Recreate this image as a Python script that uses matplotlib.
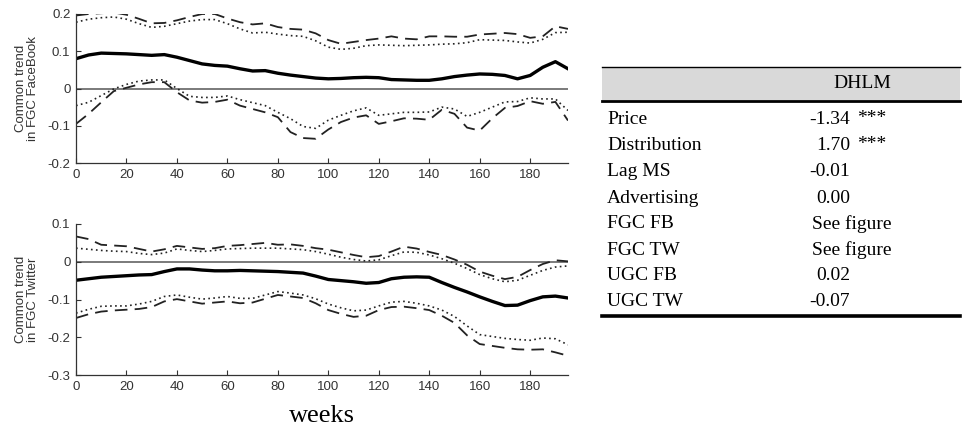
import matplotlib
matplotlib.use("Agg")
import matplotlib.pyplot as plt
from matplotlib.lines import Line2D
from matplotlib.patches import Rectangle

# ---------------- data ----------------
weeks = [0, 5, 10, 15, 20, 25, 30, 35, 40, 45, 50, 55, 60, 65, 70, 75, 80, 85, 90, 95,
         100, 105, 110, 115, 120, 125, 130, 135, 140, 145, 150, 155, 160, 165, 170, 175,
         180, 185, 190, 195]

fb_mid = [0.080, 0.090, 0.095, 0.094, 0.093, 0.091, 0.089, 0.091, 0.084, 0.075, 0.066, 0.062,
          0.060, 0.053, 0.047, 0.048, 0.041, 0.036, 0.032, 0.028, 0.026, 0.027, 0.029, 0.030,
          0.029, 0.024, 0.023, 0.022, 0.022, 0.026, 0.032, 0.036, 0.039, 0.038, 0.035, 0.026,
          0.035, 0.057, 0.072, 0.053]
fb_dash_hi = [0.196, 0.200, 0.202, 0.204, 0.198, 0.187, 0.175, 0.176, 0.183, 0.192, 0.200, 0.200,
              0.188, 0.178, 0.172, 0.175, 0.165, 0.160, 0.158, 0.148, 0.130, 0.120, 0.125, 0.130,
              0.134, 0.140, 0.134, 0.132, 0.140, 0.140, 0.139, 0.139, 0.145, 0.147, 0.149, 0.146,
              0.136, 0.140, 0.167, 0.160]
fb_dot_hi = [0.178, 0.186, 0.190, 0.192, 0.186, 0.174, 0.164, 0.167, 0.174, 0.181, 0.185, 0.185,
             0.174, 0.160, 0.149, 0.151, 0.146, 0.142, 0.140, 0.128, 0.111, 0.105, 0.108, 0.115,
             0.117, 0.116, 0.115, 0.116, 0.117, 0.119, 0.120, 0.123, 0.131, 0.130, 0.129, 0.125,
             0.122, 0.132, 0.150, 0.151]
fb_dash_lo = [-0.095, -0.068, -0.037, -0.007, 0.002, 0.011, 0.017, 0.017, -0.010, -0.032, -0.038,
              -0.036, -0.030, -0.046, -0.055, -0.064, -0.077, -0.117, -0.133, -0.135, -0.110,
              -0.090, -0.078, -0.072, -0.095, -0.088, -0.080, -0.081, -0.084, -0.057, -0.068,
              -0.105, -0.113, -0.080, -0.052, -0.047, -0.034, -0.041, -0.036, -0.086]
fb_dot_lo = [-0.046, -0.037, -0.019, -0.001, 0.011, 0.020, 0.023, 0.023, 0.000, -0.021, -0.024,
             -0.024, -0.020, -0.030, -0.038, -0.046, -0.064, -0.081, -0.102, -0.107, -0.085,
             -0.072, -0.060, -0.052, -0.072, -0.068, -0.064, -0.064, -0.063, -0.050, -0.055,
             -0.075, -0.064, -0.050, -0.036, -0.035, -0.025, -0.028, -0.028, -0.059]

tw_mid = [-0.049, -0.045, -0.041, -0.039, -0.037, -0.035, -0.034, -0.026, -0.019, -0.019, -0.022,
          -0.024, -0.024, -0.023, -0.024, -0.025, -0.026, -0.028, -0.030, -0.038, -0.047, -0.050,
          -0.053, -0.057, -0.055, -0.045, -0.041, -0.040, -0.041, -0.055, -0.068, -0.080, -0.093,
          -0.105, -0.116, -0.115, -0.103, -0.093, -0.091, -0.096]
tw_dash_hi = [0.067, 0.060, 0.045, 0.043, 0.041, 0.034, 0.027, 0.033, 0.042, 0.038, 0.034, 0.036,
              0.042, 0.044, 0.047, 0.050, 0.045, 0.046, 0.042, 0.036, 0.032, 0.025, 0.018, 0.012,
              0.015, 0.027, 0.040, 0.035, 0.026, 0.018, 0.006, -0.008, -0.026, -0.037, -0.046,
              -0.040, -0.022, -0.006, 0.004, 0.001]
tw_dot_hi = [0.036, 0.033, 0.030, 0.028, 0.027, 0.022, 0.019, 0.023, 0.034, 0.030, 0.027, 0.030,
             0.034, 0.035, 0.036, 0.036, 0.036, 0.034, 0.032, 0.027, 0.020, 0.012, 0.006, 0.002,
             0.005, 0.016, 0.026, 0.025, 0.018, 0.008, -0.004, -0.018, -0.034, -0.045, -0.053,
             -0.049, -0.036, -0.023, -0.014, -0.011]
tw_dot_lo = [-0.136, -0.126, -0.118, -0.117, -0.117, -0.112, -0.105, -0.092, -0.088, -0.094,
             -0.099, -0.096, -0.092, -0.097, -0.097, -0.088, -0.079, -0.083, -0.088, -0.098,
             -0.112, -0.122, -0.130, -0.128, -0.117, -0.107, -0.105, -0.110, -0.117, -0.128,
             -0.145, -0.170, -0.193, -0.198, -0.203, -0.206, -0.208, -0.202, -0.204, -0.220]
tw_dash_lo = [-0.149, -0.139, -0.132, -0.129, -0.127, -0.125, -0.120, -0.105, -0.099, -0.105,
              -0.111, -0.108, -0.105, -0.110, -0.108, -0.098, -0.088, -0.092, -0.096, -0.110,
              -0.128, -0.138, -0.146, -0.143, -0.128, -0.120, -0.119, -0.123, -0.128, -0.143,
              -0.162, -0.195, -0.218, -0.223, -0.228, -0.232, -0.233, -0.232, -0.240, -0.249]

x_ticks = [0, 20, 40, 60, 80, 100, 120, 140, 160, 180]
fb_yticks = [-0.2, -0.1, 0, 0.1, 0.2]
tw_yticks = [-0.3, -0.2, -0.1, 0, 0.1]
fb_ylabel = "Common trend\nin FGC FaceBook"
tw_ylabel = "Common trend\nin FGC Twitter"
x_label = "weeks"

table_header = "DHLM"
row_labels = ["Price", "Distribution", "Lag MS", "Advertising", "FGC FB", "FGC TW", "UGC FB", "UGC TW"]
row_values = ["-1.34", "1.70", "-0.01", "0.00", "See figure", "See figure", "0.02", "-0.07"]
row_stars = ["***", "***", "", "", "", "", "", ""]

# ---------------- figure ----------------
W, H = 973, 430
fig = plt.figure(figsize=(W / 100, H / 100), dpi=100)

def fx(px):
    return px / W

def fy(py):
    return 1 - py / H

sans = "Liberation Sans"
serif = "Liberation Serif"
tick_col = "#333333"

def make_axes(top, bottom, mid, dhi, dlo, dthi, dtlo, yticks, ylim, ylabel):
    ax = fig.add_axes([fx(76), fy(bottom), fx(568) - fx(76), fy(top) - fy(bottom)])
    ax.axhline(0, color="#7a7a7a", lw=1.4, zorder=1)
    ax.plot(weeks, dhi, color="#222222", lw=1.3, ls=(0, (7, 4)))
    ax.plot(weeks, dlo, color="#222222", lw=1.3, ls=(0, (7, 4)))
    ax.plot(weeks, dthi, color="#222222", lw=1.2, ls=(0, (1, 2)))
    ax.plot(weeks, dtlo, color="#222222", lw=1.2, ls=(0, (1, 2)))
    ax.plot(weeks, mid, color="black", lw=2.4)
    ax.set_xlim(0, 195)
    ax.set_ylim(*ylim)
    ax.set_xticks(x_ticks)
    ax.set_yticks(yticks)
    ax.set_yticklabels(["0" if v == 0 else f"{v:g}" for v in yticks])
    for s in ["top", "right"]:
        ax.spines[s].set_visible(False)
    for s in ["left", "bottom"]:
        ax.spines[s].set_color("#333333")
        ax.spines[s].set_linewidth(0.9)
    ax.tick_params(direction="in", length=3.5, width=0.8, color="#333333",
                   labelsize=9.5, labelcolor=tick_col, pad=4)
    for lab in ax.get_xticklabels() + ax.get_yticklabels():
        lab.set_fontfamily(sans)
    fig.text(fx(27), fy((top + bottom) / 2), ylabel, rotation=90, ha="center", va="center",
             multialignment="center", fontsize=9.5, family=sans, color=tick_col, linespacing=1.0)
    return ax

ax1 = make_axes(14, 163, fb_mid, fb_dash_hi, fb_dash_lo, fb_dot_hi, fb_dot_lo,
                fb_yticks, (-0.2, 0.2), fb_ylabel)
ax2 = make_axes(224, 375, tw_mid, tw_dash_hi, tw_dash_lo, tw_dot_hi, tw_dot_lo,
                tw_yticks, (-0.3, 0.1), tw_ylabel)

fig.text(fx(322), fy(416), x_label, ha="center", va="center", fontsize=19, family=serif)

# ---------------- table ----------------
tx0, tx1 = 602, 960
fig.patches.append(Rectangle((fx(tx0), fy(100)), fx(tx1) - fx(tx0), fy(67) - fy(100),
                             transform=fig.transFigure, facecolor="#d9d9d9",
                             edgecolor="none", zorder=0))
fig.add_artist(Line2D([fx(tx0), fx(tx1)], [fy(67), fy(67)], color="black", lw=1.0))
fig.add_artist(Line2D([fx(tx0), fx(tx1)], [fy(100.5), fy(100.5)], color="black", lw=2.0))
fig.add_artist(Line2D([fx(tx0), fx(tx1)], [fy(316), fy(316)], color="black", lw=2.6))

tfs = 14
fig.text(fx(862), fy(84), table_header, ha="center", va="center", fontsize=tfs, family=serif)
row_y0, row_dy = 120, 26
for i, (lab, val, st) in enumerate(zip(row_labels, row_values, row_stars)):
    y = fy(row_y0 + i * row_dy)
    fig.text(fx(607), y, lab, ha="left", va="center", fontsize=tfs, family=serif)
    if val.startswith("See"):
        fig.text(fx(812), y, val, ha="left", va="center", fontsize=tfs, family=serif)
    else:
        fig.text(fx(850), y, val, ha="right", va="center", fontsize=tfs, family=serif)
    if st:
        fig.text(fx(857), y + 0.004, st, ha="left", va="center", fontsize=tfs, family=serif)

fig.savefig("out.png", dpi=100)
